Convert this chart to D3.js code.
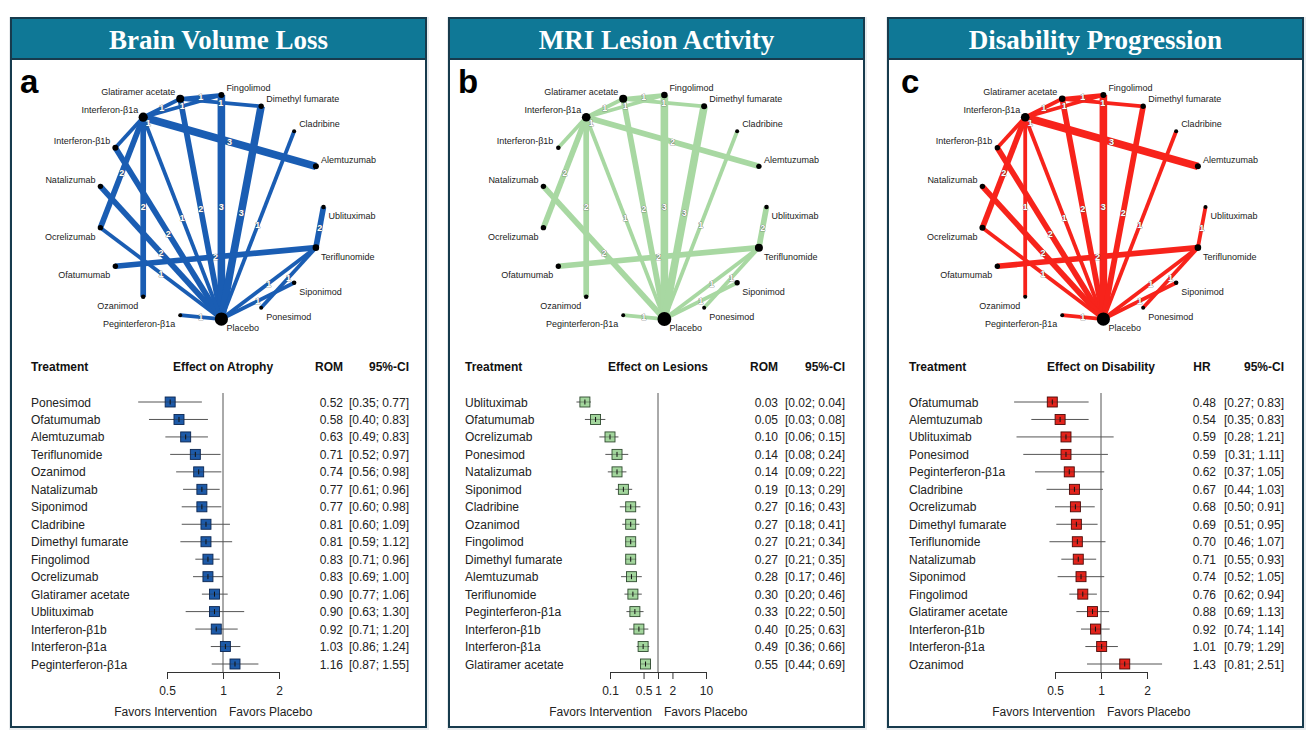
<!DOCTYPE html>
<html><head><meta charset="utf-8">
<script src="https://cdn.jsdelivr.net/npm/d3@7"></script>
<style>
body{margin:0;background:#fff}
svg{display:block}
text{font-family:"Liberation Sans",Arial,Helvetica,sans-serif}
</style>
</head><body>
<svg id="chart" width="1315" height="737"></svg>
<script>
// ---------------- DATA ----------------
const titles = ["Brain Volume Loss", "MRI Lesion Activity", "Disability Progression"];
const panelLetters = ["a", "b", "c"];
const effectHeaders = ["Effect on Atrophy", "Effect on Lesions", "Effect on Disability"];
const measureHeaders = ["ROM", "ROM", "HR"];
const favorsLabels = ["Favors Intervention", "Favors Placebo"];

// network nodes (clockwise, starting at top)
const nodeNames = ["Fingolimod", "Dimethyl fumarate", "Cladribine", "Alemtuzumab", "Ublituximab",
  "Teriflunomide", "Siponimod", "Ponesimod", "Placebo", "Peginterferon-β1a", "Ozanimod",
  "Ofatumumab", "Ocrelizumab", "Natalizumab", "Interferon-β1b", "Interferon-β1a", "Glatiramer acetate"];

// relative node weights (same order as nodeNames)
const nodeWeightA = [2.25, 1.8, 1.0, 2.25, 1.3, 2.7, 1.3, 1.0, 11, 1.0, 1.3, 1.8, 1.8, 1.8, 2.25, 5.3, 4.0];
const nodeWeightB = [2.7, 2.25, 1.0, 1.8, 1.3, 4.0, 1.8, 1.0, 12, 1.0, 1.3, 1.8, 1.8, 1.8, 1.3, 4.7, 4.0];
const nodeWeightC = [2.25, 1.8, 1.0, 2.25, 1.0, 2.7, 1.3, 1.0, 11, 1.0, 1.0, 1.8, 2.25, 1.8, 1.8, 4.7, 2.7];

// comparisons: [treatment 1, treatment 2, number of studies]
const edgesA = [
  ["Interferon-β1b", "Interferon-β1a", 1],
  ["Interferon-β1a", "Glatiramer acetate", 1],
  ["Glatiramer acetate", "Fingolimod", 1],
  ["Interferon-β1a", "Fingolimod", 1],
  ["Glatiramer acetate", "Dimethyl fumarate", 1],
  ["Interferon-β1a", "Alemtuzumab", 3],
  ["Glatiramer acetate", "Placebo", 2],
  ["Fingolimod", "Placebo", 3],
  ["Dimethyl fumarate", "Placebo", 3],
  ["Cladribine", "Placebo", 1],
  ["Ublituximab", "Teriflunomide", 2],
  ["Ofatumumab", "Teriflunomide", 2],
  ["Teriflunomide", "Placebo", 1],
  ["Ponesimod", "Teriflunomide", 1],
  ["Siponimod", "Placebo", 1],
  ["Peginterferon-β1a", "Placebo", 1],
  ["Ocrelizumab", "Placebo", 1],
  ["Natalizumab", "Placebo", 2],
  ["Interferon-β1b", "Placebo", 2],
  ["Interferon-β1a", "Placebo", 1],
  ["Interferon-β1a", "Ozanimod", 2],
  ["Interferon-β1a", "Ocrelizumab", 2]
];
const edgesB = [
  ["Interferon-β1b", "Interferon-β1a", 1],
  ["Interferon-β1a", "Glatiramer acetate", 1],
  ["Glatiramer acetate", "Fingolimod", 1],
  ["Interferon-β1a", "Fingolimod", 1],
  ["Glatiramer acetate", "Dimethyl fumarate", 1],
  ["Interferon-β1a", "Alemtuzumab", 2],
  ["Interferon-β1a", "Ocrelizumab", 2],
  ["Interferon-β1a", "Ozanimod", 2],
  ["Interferon-β1a", "Placebo", 1],
  ["Glatiramer acetate", "Placebo", 2],
  ["Fingolimod", "Placebo", 3],
  ["Dimethyl fumarate", "Placebo", 3],
  ["Cladribine", "Placebo", 1],
  ["Ublituximab", "Teriflunomide", 2],
  ["Ofatumumab", "Teriflunomide", 2],
  ["Teriflunomide", "Placebo", 1],
  ["Ponesimod", "Teriflunomide", 1],
  ["Siponimod", "Placebo", 1],
  ["Peginterferon-β1a", "Placebo", 1],
  ["Natalizumab", "Placebo", 2]
];
const edgesC = [
  ["Interferon-β1b", "Interferon-β1a", 1],
  ["Interferon-β1a", "Glatiramer acetate", 1],
  ["Glatiramer acetate", "Fingolimod", 1],
  ["Interferon-β1a", "Fingolimod", 1],
  ["Glatiramer acetate", "Dimethyl fumarate", 1],
  ["Interferon-β1a", "Alemtuzumab", 3],
  ["Interferon-β1b", "Placebo", 2],
  ["Interferon-β1a", "Ocrelizumab", 2],
  ["Interferon-β1a", "Ozanimod", 1],
  ["Interferon-β1a", "Placebo", 1],
  ["Glatiramer acetate", "Placebo", 2],
  ["Fingolimod", "Placebo", 3],
  ["Dimethyl fumarate", "Placebo", 2],
  ["Cladribine", "Placebo", 1],
  ["Ublituximab", "Teriflunomide", 1],
  ["Ofatumumab", "Teriflunomide", 2],
  ["Teriflunomide", "Placebo", 1],
  ["Ponesimod", "Teriflunomide", 1],
  ["Siponimod", "Placebo", 1],
  ["Peginterferon-β1a", "Placebo", 1],
  ["Natalizumab", "Placebo", 2],
  ["Ocrelizumab", "Placebo", 1]
];

// forest plot a: brain volume loss (ROM)
const treatmentsA = ["Ponesimod", "Ofatumumab", "Alemtuzumab", "Teriflunomide", "Ozanimod", "Natalizumab",
  "Siponimod", "Cladribine", "Dimethyl fumarate", "Fingolimod", "Ocrelizumab", "Glatiramer acetate",
  "Ublituximab", "Interferon-β1b", "Interferon-β1a", "Peginterferon-β1a"];
const estA = [0.52, 0.58, 0.63, 0.71, 0.74, 0.77, 0.77, 0.81, 0.81, 0.83, 0.83, 0.90, 0.90, 0.92, 1.03, 1.16];
const lowA = [0.35, 0.40, 0.49, 0.52, 0.56, 0.61, 0.60, 0.60, 0.59, 0.71, 0.69, 0.77, 0.63, 0.71, 0.86, 0.87];
const highA = [0.77, 0.83, 0.83, 0.97, 0.98, 0.96, 0.98, 1.09, 1.12, 0.96, 1.00, 1.06, 1.30, 1.20, 1.24, 1.55];
const ticksA = [0.5, 1, 2];

// forest plot b: MRI lesion activity (ROM)
const treatmentsB = ["Ublituximab", "Ofatumumab", "Ocrelizumab", "Ponesimod", "Natalizumab", "Siponimod",
  "Cladribine", "Ozanimod", "Fingolimod", "Dimethyl fumarate", "Alemtuzumab", "Teriflunomide",
  "Peginterferon-β1a", "Interferon-β1b", "Interferon-β1a", "Glatiramer acetate"];
const estB = [0.03, 0.05, 0.10, 0.14, 0.14, 0.19, 0.27, 0.27, 0.27, 0.27, 0.28, 0.30, 0.33, 0.40, 0.49, 0.55];
const lowB = [0.02, 0.03, 0.06, 0.08, 0.09, 0.13, 0.16, 0.18, 0.21, 0.21, 0.17, 0.20, 0.22, 0.25, 0.36, 0.44];
const highB = [0.04, 0.08, 0.15, 0.24, 0.22, 0.29, 0.43, 0.41, 0.34, 0.35, 0.46, 0.46, 0.50, 0.63, 0.66, 0.69];
const ticksB = [0.1, 0.5, 1, 2, 10];

// forest plot c: disability progression (HR)
const treatmentsC = ["Ofatumumab", "Alemtuzumab", "Ublituximab", "Ponesimod", "Peginterferon-β1a", "Cladribine",
  "Ocrelizumab", "Dimethyl fumarate", "Teriflunomide", "Natalizumab", "Siponimod", "Fingolimod",
  "Glatiramer acetate", "Interferon-β1b", "Interferon-β1a", "Ozanimod"];
const estC = [0.48, 0.54, 0.59, 0.59, 0.62, 0.67, 0.68, 0.69, 0.70, 0.71, 0.74, 0.76, 0.88, 0.92, 1.01, 1.43];
const lowC = [0.27, 0.35, 0.28, 0.31, 0.37, 0.44, 0.50, 0.51, 0.46, 0.55, 0.52, 0.62, 0.69, 0.74, 0.79, 0.81];
const highC = [0.83, 0.83, 1.21, 1.11, 1.05, 1.03, 0.91, 0.95, 1.07, 0.93, 1.05, 0.94, 1.13, 1.14, 1.29, 2.51];
const ticksC = [0.5, 1, 2];

// ---------------- LAYOUT / STYLE ----------------
const panels = [
  { x: 11,  nodes: nodeWeightA, edges: edgesA, edgeColor: "#1a5db3", sqFill: "#1d5aa8", sqStroke: "#0c2650",
    cx: 200, nameX: 20, ref: 212, dom: [0.5, 2], half: 56, estX: 332, ciX: 398, letterX: 9,
    t: treatmentsA, est: estA, low: lowA, high: highA, ticks: ticksA },
  { x: 449, nodes: nodeWeightB, edges: edgesB, edgeColor: "#a8d8a2", sqFill: "#a3d69d", sqStroke: "#2f4a2f",
    cx: 205, nameX: 16, ref: 209, dom: [0.1, 10], half: 48, estX: 329, ciX: 396, letterX: 9,
    t: treatmentsB, est: estB, low: lowB, high: highB, ticks: ticksB },
  { x: 888, nodes: nodeWeightC, edges: edgesC, edgeColor: "#f7231b", sqFill: "#e3231b", sqStroke: "#4a0a08",
    cx: 205, nameX: 21, ref: 213, dom: [0.5, 2], half: 46, estX: 328, ciX: 396, letterX: 13,
    t: treatmentsC, est: estC, low: lowC, high: highC, ticks: ticksC }
];
const PW = 415, TOP = 18, BOTTOM = 727, HEAD_H = 41;
const CY = 207, R = 112.5;

const svg = d3.select("#chart");
const fmt = d3.format(".2f");
const widthScale = d3.scaleLinear().domain([1, 3]).range([3.8, 7.6]);
const radiusScale = d3.scaleSqrt().domain([0, 1]).range([0, 2]);
const angle = d3.scaleLinear().domain([4, 4 + nodeNames.length]).range([0, 2 * Math.PI]);

panels.forEach((p, pi) => {
  const g = svg.append("g").attr("transform", `translate(${p.x},0)`);

  // shadow + panel frame
  g.append("rect").attr("x", -2).attr("y", TOP - 1).attr("width", PW + 5).attr("height", BOTTOM - TOP + 4)
    .attr("fill", "#e9ecee");
  g.append("rect").attr("x", 0).attr("y", TOP).attr("width", PW).attr("height", BOTTOM - TOP)
    .attr("fill", "#fff").attr("stroke", "#173b4d").attr("stroke-width", 2);
  g.append("rect").attr("x", 0).attr("y", TOP).attr("width", PW).attr("height", HEAD_H)
    .attr("fill", "#0f7896").attr("stroke", "#173b4d").attr("stroke-width", 2);
  g.append("text").attr("x", PW / 2).attr("y", TOP + 31).attr("text-anchor", "middle")
    .style("font-family", "'Liberation Serif','Times New Roman',serif").style("font-weight", "bold")
    .style("font-size", "27px").attr("fill", "#fff").text(titles[pi]);

  // panel letter
  g.append("text").attr("x", p.letterX).attr("y", 93).style("font-weight", "bold")
    .style("font-size", "33px").attr("fill", "#000").text(panelLetters[pi]);

  // ---- network graph ----
  const pos = {};
  nodeNames.forEach((n, i) => {
    const th = angle(i);
    pos[n] = { x: p.cx + R * Math.cos(th), y: CY + R * Math.sin(th), c: Math.cos(th), s: Math.sin(th) };
  });
  const net = g.append("g");
  net.selectAll("line.edge").data(p.edges).join("line").attr("class", "edge")
    .attr("x1", d => pos[d[0]].x).attr("y1", d => pos[d[0]].y)
    .attr("x2", d => pos[d[1]].x).attr("y2", d => pos[d[1]].y)
    .attr("stroke", p.edgeColor).attr("stroke-width", d => widthScale(d[2]))
    .attr("stroke-linecap", "butt");
  net.selectAll("circle.node").data(nodeNames).join("circle").attr("class", "node")
    .attr("cx", d => pos[d].x).attr("cy", d => pos[d].y)
    .attr("r", (d, i) => radiusScale(p.nodes[i])).attr("fill", "#000");
  // edge labels (number of studies) at the midpoint; the β1b–β1a label sits beside the β1a node
  const special = d => d[0] === "Interferon-β1b" && d[1] === "Interferon-β1a";
  net.selectAll("text.elab").data(p.edges).join("text").attr("class", "elab")
    .attr("x", d => special(d) ? pos[d[1]].x + 5 : (pos[d[0]].x + pos[d[1]].x) / 2)
    .attr("y", d => (special(d) ? pos[d[1]].y + 6 : (pos[d[0]].y + pos[d[1]].y) / 2) + 3.2)
    .attr("text-anchor", "middle").style("font-size", "9px").style("font-weight", "bold")
    .attr("fill", "#fff").attr("stroke", "#555").attr("stroke-width", 0.6).attr("paint-order", "stroke")
    .text(d => d[2]);
  net.selectAll("text.nlab").data(nodeNames).join("text").attr("class", "nlab")
    .attr("x", d => pos[d].x + (pos[d].c >= 0 ? 5 : -5))
    .attr("y", d => pos[d].y + (pos[d].s < 0 ? -7 : 9) + 3.2)
    .attr("text-anchor", d => pos[d].c >= 0 ? "start" : "end")
    .style("font-size", "9px").attr("fill", "#222").text(d => d);

  // ---- forest plot ----
  const x = d3.scaleLog().domain(p.dom).range([p.ref - p.half, p.ref + p.half]);
  const y = d3.scalePoint().domain(p.t).range([402, 664]);
  const rows = p.t.map((t, i) => ({ t, e: p.est[i], l: p.low[i], h: p.high[i] }));
  const f = g.append("g");

  const hy = 371;
  f.append("text").attr("x", p.nameX).attr("y", hy).style("font-weight", "bold").style("font-size", "12px")
    .attr("fill", "#111").text("Treatment");
  f.append("text").attr("x", p.ref).attr("y", hy).attr("text-anchor", "middle").style("font-weight", "bold")
    .style("font-size", "12px").attr("fill", "#111").text(effectHeaders[pi]);
  f.append("text").attr("x", p.estX - 14).attr("y", hy).attr("text-anchor", "middle").style("font-weight", "bold")
    .style("font-size", "12px").attr("fill", "#111").text(measureHeaders[pi]);
  f.append("text").attr("x", p.ciX).attr("y", hy).attr("text-anchor", "end").style("font-weight", "bold")
    .style("font-size", "12px").attr("fill", "#111").text("95%-CI");

  // reference line
  f.append("line").attr("x1", x(1)).attr("x2", x(1)).attr("y1", 393).attr("y2", 672)
    .attr("stroke", "#555").attr("stroke-width", 1);

  // axis
  const axis = d3.axisBottom(x).tickValues(p.ticks).tickFormat(d => d3.format("")(d)).tickSize(7).tickSizeOuter(0);
  const ax = f.append("g").attr("transform", "translate(0,672)").call(axis);
  ax.select(".domain").attr("stroke", "#333");
  ax.selectAll(".tick line").attr("stroke", "#333");
  ax.selectAll(".tick text").attr("fill", "#222").style("font-size", "12px")
    .style("font-family", "'Liberation Sans',Arial,sans-serif").attr("dy", "1.05em");

  f.append("text").attr("x", x(1) - 6).attr("y", 716).attr("text-anchor", "end").style("font-size", "12px")
    .attr("fill", "#222").text(favorsLabels[0]);
  f.append("text").attr("x", x(1) + 6).attr("y", 716).attr("text-anchor", "start").style("font-size", "12px")
    .attr("fill", "#222").text(favorsLabels[1]);

  const rg = f.selectAll("g.row").data(rows).join("g").attr("class", "row");
  rg.append("text").attr("x", p.nameX).attr("y", d => y(d.t) + 4.5).style("font-size", "12px")
    .attr("fill", "#222").text(d => d.t);
  rg.append("line").attr("x1", d => x(d.l)).attr("x2", d => x(d.h)).attr("y1", d => y(d.t)).attr("y2", d => y(d.t))
    .attr("stroke", "#555").attr("stroke-width", 1);
  rg.append("rect").attr("x", d => x(d.e) - 5).attr("y", d => y(d.t) - 5).attr("width", 10).attr("height", 10)
    .attr("fill", p.sqFill).attr("stroke", p.sqStroke).attr("stroke-width", 0.9);
  rg.append("line").attr("x1", d => x(d.e) - 5).attr("x2", d => x(d.e) + 5).attr("y1", d => y(d.t)).attr("y2", d => y(d.t))
    .attr("stroke", "#333").attr("stroke-width", 0.6).attr("stroke-opacity", 0.7);
  rg.append("line").attr("x1", d => x(d.e)).attr("x2", d => x(d.e)).attr("y1", d => y(d.t) - 2.5).attr("y2", d => y(d.t) + 2.5)
    .attr("stroke", "#111").attr("stroke-width", 1);
  rg.append("text").attr("x", p.estX).attr("y", d => y(d.t) + 4.5).attr("text-anchor", "end").style("font-size", "12px")
    .attr("fill", "#222").text(d => fmt(d.e));
  rg.append("text").attr("x", p.ciX).attr("y", d => y(d.t) + 4.5).attr("text-anchor", "end").style("font-size", "12px")
    .attr("fill", "#222").text(d => `[${fmt(d.l)}; ${fmt(d.h)}]`);
});
</script>
</body></html>
